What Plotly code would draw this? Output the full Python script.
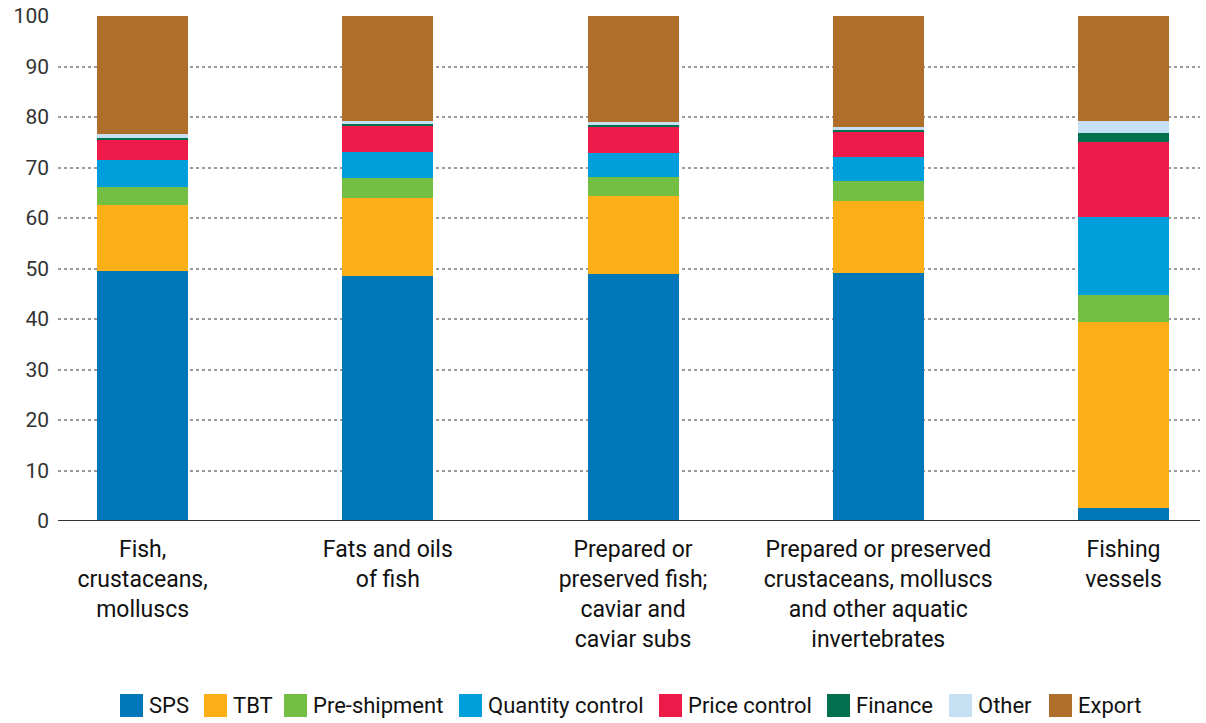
import plotly.graph_objects as go

categories = [
    "Fish,<br>crustaceans,<br>molluscs",
    "Fats and oils<br>of fish",
    "Prepared or<br>preserved fish;<br>caviar and<br>caviar subs",
    "Prepared or preserved<br>crustaceans, molluscs<br>and other aquatic<br>invertebrates",
    "Fishing<br>vessels",
]

sps = [49.5, 48.6, 48.9, 49.1, 2.6]
tbt = [13.1, 15.4, 15.5, 14.3, 36.8]
pre_shipment = [3.5, 3.9, 3.7, 3.9, 5.4]
quantity_control = [5.4, 5.2, 4.8, 4.8, 15.4]
price_control = [4.1, 5.1, 5.1, 4.9, 14.8]
finance = [0.3, 0.4, 0.4, 0.4, 1.8]
other = [0.8, 0.6, 0.6, 0.6, 2.4]
export = [23.3, 20.8, 21.0, 22.0, 20.8]

series_names = ["SPS", "TBT", "Pre-shipment", "Quantity control",
                "Price control", "Finance", "Other", "Export"]
series_values = [sps, tbt, pre_shipment, quantity_control,
                 price_control, finance, other, export]
series_colors = ["#0077B8", "#FCAF17", "#72BF44", "#009EDB",
                 "#EE1A4A", "#00704F", "#C6E0F3", "#B06E2B"]

# legend swatch left edges (pixels)
legend_swatch_x = [120, 204, 284, 459, 659, 827, 949, 1049]

W, H = 1206, 723
ML, MR, MT, MB = 58, 6, 16, 202
PW, PH = W - ML - MR, H - MT - MB
font_family = "Roboto, Arial, sans-serif"

fig = go.Figure()
for name, vals, color in zip(series_names, series_values, series_colors):
    fig.add_trace(go.Bar(
        name=name, x=list(range(len(categories))), y=vals,
        marker=dict(color=color, line=dict(width=0)),
        width=0.371,
    ))

fig.update_layout(
    barmode="stack",
    width=W, height=H,
    margin=dict(l=ML, r=MR, t=MT, b=MB, autoexpand=False),
    paper_bgcolor="white", plot_bgcolor="white",
    font=dict(family=font_family, color="#222", size=22),
    showlegend=False,
    xaxis=dict(
        tickmode="array", tickvals=list(range(len(categories))), ticktext=categories,
        range=[-0.345, 4.312], showgrid=False, zeroline=False, showline=False,
        ticks="", tickfont=dict(size=23, color="#111"), fixedrange=True,
        ticklabelstandoff=12, automargin=False,
    ),
    yaxis=dict(
        range=[0, 100], tickmode="linear", tick0=0, dtick=10,
        showgrid=True, gridcolor="#9a9a9a", griddash="dot", gridwidth=2,
        zeroline=False, showline=False, ticks="",
        tickfont=dict(size=21, color="#333"), ticklabelstandoff=8, automargin=False,
    ),
    bargap=0,
)

fig.add_shape(type="line", xref="paper", yref="y", x0=0, x1=1, y0=0, y1=0,
              line=dict(color="#333", width=2), layer="above")

def px_x(p):
    return (p - ML) / PW

def px_y(p):
    return (H - MB - p) / PH

# manual legend (larger square swatches as in the reference)
sq = 23
cy = 705.5
for name, color, px in zip(series_names, series_colors, legend_swatch_x):
    fig.add_shape(type="rect", xref="paper", yref="paper",
                  x0=px_x(px), x1=px_x(px + sq),
                  y0=px_y(cy + sq / 2), y1=px_y(cy - sq / 2),
                  fillcolor=color, line=dict(width=0))
    fig.add_annotation(xref="paper", yref="paper",
                       x=px_x(px + sq + 4), y=px_y(cy),
                       text=name, showarrow=False, xanchor="left", yanchor="middle",
                       font=dict(size=22, color="#111"))

fig.write_html("out.html")
